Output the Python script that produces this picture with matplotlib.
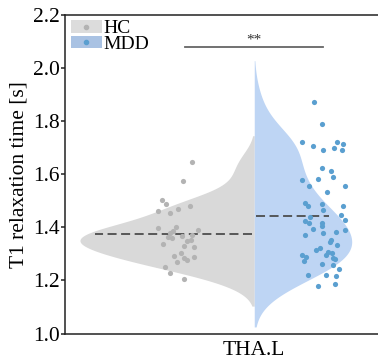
import matplotlib
matplotlib.use('Agg')

import numpy as np
import matplotlib.pyplot as plt
from matplotlib.patches import Patch
from matplotlib.lines import Line2D
from matplotlib.legend_handler import HandlerTuple

plt.rcParams['font.family'] = ['Liberation Serif', 'DejaVu Serif']

# T1 relaxation times of the left thalamus, one value per subject
hc_t1 = [1.644, 1.575, 1.502, 1.487, 1.462, 1.453, 1.467, 1.480, 1.398, 1.403,
         1.387, 1.379, 1.369, 1.371, 1.391, 1.362, 1.360, 1.336, 1.348, 1.354,
         1.328, 1.327, 1.304, 1.292, 1.269, 1.283, 1.277, 1.287, 1.251, 1.229,
         1.204]
# horizontal scatter offsets of the HC strip
hc_jit = [-0.63, -0.72, -0.93, -0.89, -0.97, -0.85, -0.77, -0.65, -0.97, -0.79,
          -0.82, -0.85, -0.73, -0.63, -0.56, -0.87, -0.83, -0.92, -0.68, -0.64,
          -0.71, -0.61, -0.74, -0.81, -0.78, -0.71, -0.68, -0.60, -0.90, -0.85,
          -0.71]

mdd_t1 = [1.872, 1.787, 1.719, 1.705, 1.689, 1.719, 1.713, 1.697, 1.692, 1.622,
          1.611, 1.588, 1.582, 1.577, 1.554, 1.532, 1.556, 1.490, 1.481, 1.487,
          1.481, 1.465, 1.446, 1.439, 1.424, 1.418, 1.417, 1.404, 1.427, 1.389,
          1.392, 1.384, 1.377, 1.372, 1.354, 1.345, 1.332, 1.324, 1.313, 1.308,
          1.304, 1.295, 1.296, 1.289, 1.274, 1.285, 1.279, 1.261, 1.258, 1.245,
          1.220, 1.220, 1.216, 1.180, 1.185]
mdd_jit = [0.60, 0.68, 0.48, 0.59, 0.69, 0.83, 0.89, 0.80, 0.88, 0.68,
           0.77, 0.79, 0.64, 0.48, 0.55, 0.73, 0.91, 0.51, 0.54, 0.68,
           0.89, 0.69, 0.87, 0.56, 0.51, 0.55, 0.68, 0.68, 0.91, 0.91,
           0.59, 0.82, 0.69, 0.51, 0.77, 0.76, 0.83, 0.66, 0.62, 0.74,
           0.78, 0.72, 0.48, 0.52, 0.50, 0.79, 0.81, 0.68, 0.79, 0.85,
           0.72, 0.54, 0.82, 0.64, 0.81]

region = 'THA.L'
groups = ['HC', 'MDD']
sig_label = '**'


def kde(vals, cut=2, npts=300):
    # gaussian KDE with Scott's bandwidth, grid extended by cut * bw
    vals = np.asarray(vals)
    n = len(vals)
    bw = vals.std(ddof=1) * n ** (-0.2)
    grid = np.linspace(vals.min() - cut * bw, vals.max() + cut * bw, npts)
    z = (grid[:, None] - vals[None, :]) / bw
    dens = np.exp(-0.5 * z ** 2).sum(axis=1) / (n * bw * np.sqrt(2 * np.pi))
    return grid, dens


fig = plt.figure(figsize=(3.78, 3.59), dpi=100)
ax = fig.add_axes([0.172, 0.0705, 0.83, 0.889])

hc_grid, hc_dens = kde(hc_t1)
mdd_grid, mdd_dens = kde(mdd_t1)
scale = 1.75 / max(hc_dens.max(), mdd_dens.max())

hc_col, mdd_col = '#d9d9d9', '#bed5f4'
ax.fill_betweenx(hc_grid, -hc_dens * scale, 0, color=hc_col, lw=0, zorder=1)
ax.fill_betweenx(mdd_grid, 0, mdd_dens * scale, color=mdd_col, lw=0, zorder=1)

# mean lines across each half
for grid, dens, vals, sign in [(hc_grid, hc_dens, hc_t1, -1), (mdd_grid, mdd_dens, mdd_t1, 1)]:
    m = np.mean(vals)
    w = np.interp(m, grid, dens) * scale
    ax.plot([sign * 0.02, sign * (w - 0.09)], [m, m], color='#4d4d4d', lw=1.3,
            dashes=(5, 2.5), zorder=3)

ax.scatter(hc_jit, hc_t1, s=14, color='#b3b3b3', lw=0, zorder=4)
ax.scatter(mdd_jit, mdd_t1, s=14, color='#5a9fd0', lw=0, zorder=4)

# significance bar
ax.plot([-0.70, 0.69], [2.079, 2.079], color='#666666', lw=1.3)
ax.text(0, 2.080, sig_label, ha='center', va='bottom', fontsize=11, color='#333333')

ax.set_xlim(-1.9, 1.25)
ax.set_ylim(1.0, 2.2)
ax.set_yticks(np.arange(1.0, 2.21, 0.2))
ax.set_yticklabels([f'{v:.1f}' for v in np.arange(1.0, 2.21, 0.2)])
ax.set_xticks([0])
ax.set_xticklabels([region])
ax.tick_params(axis='x', length=0, labelsize=15.5, pad=5)
ax.tick_params(axis='y', length=3, width=1.1, labelsize=15.5, pad=1, color='#222222')
ax.set_ylabel('T1 relaxation time [s]', fontsize=15.5, labelpad=3)

for side in ['left', 'bottom', 'top']:
    ax.spines[side].set_linewidth(1.1)
    ax.spines[side].set_color('#222222')
ax.spines['right'].set_visible(False)

handles = [
    (Patch(color='#dcdcdc', lw=0), Line2D([], [], ls='', marker='o', ms=3, color='#b3b3b3')),
    (Patch(color='#a9c2e3', lw=0), Line2D([], [], ls='', marker='o', ms=3, color='#5a9fd0')),
]
ax.legend(handles, groups, handler_map={tuple: HandlerTuple(ndivide=1)},
          loc='upper left', bbox_to_anchor=(0.0, 1.0), frameon=False,
          fontsize=14, handlelength=1.6, handleheight=0.6, handletextpad=0.08,
          labelspacing=-0.08, borderpad=0.2, borderaxespad=0.1)

plt.savefig('out.png', dpi=100)
plt.close()
